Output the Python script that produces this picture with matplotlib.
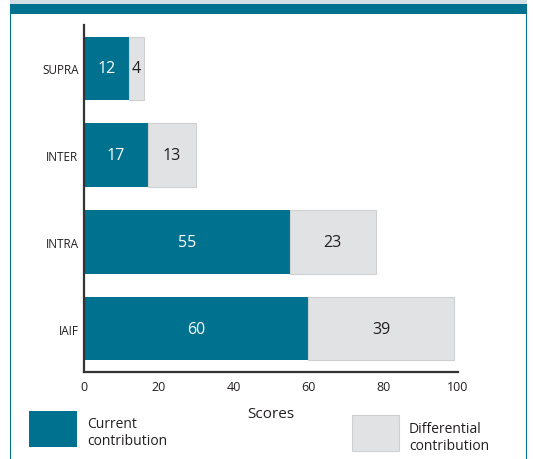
import matplotlib
matplotlib.use("Agg")
import matplotlib.pyplot as plt
from matplotlib.patches import Rectangle

# data
categories = ["SUPRA", "INTER", "INTRA", "IAIF"]
current = [12, 17, 55, 60]
differential = [4, 13, 23, 39]
x_ticks = [0, 20, 40, 60, 80, 100]

teal = "#00718f"
grey = "#e1e2e4"
W, H = 533, 460

plt.rcParams["font.family"] = ["Open Sans", "DejaVu Sans"]

fig = plt.figure(figsize=(W / 100, H / 100), dpi=100)


def px_rect(x0, y0, x1, y1, **kw):
    # rectangle given in pixel coords (origin top-left)
    fig.patches.append(Rectangle((x0 / W, 1 - y1 / H), (x1 - x0) / W, (y1 - y0) / H,
                                 transform=fig.transFigure, figure=fig, **kw))


# header band and frame
px_rect(10, 0, 527, 5, facecolor="#d2dfe4", edgecolor="none")
px_rect(10, 5, 527, 15, facecolor=teal, edgecolor="none")
px_rect(10, 15, 11, 460, facecolor=teal, edgecolor="none")
px_rect(526, 15, 527, 460, facecolor=teal, edgecolor="none")

ax = fig.add_axes([84 / W, 1 - 373 / H, 374 / W, 347 / H])

pos = range(len(categories))
ax.barh(pos, current, height=0.73, color=teal, edgecolor="none")
ax.barh(pos, differential, left=current, height=0.73, color=grey,
        edgecolor="#cfd0d2", linewidth=0.8)

for i, (c, d) in enumerate(zip(current, differential)):
    ax.text(c / 2, i, str(c), ha="center", va="center", color="white", fontsize=11.5)
    ax.text(c + d / 2, i, str(d), ha="center", va="center", color="#231f20", fontsize=11.5)

ax.set_ylim(3.5, -0.5)
ax.set_xlim(0, 100)
ax.set_yticks(list(pos))
ax.set_yticklabels(categories)
ax.set_xticks(x_ticks)
ax.tick_params(axis="both", length=0, colors="#231f20")
ax.tick_params(axis="y", pad=4, labelsize=8.5)
ax.tick_params(axis="x", pad=6, labelsize=9)
ax.set_xlabel("Scores", fontsize=11, color="#231f20", labelpad=9)

for side in ["top", "right"]:
    ax.spines[side].set_visible(False)
for side in ["left", "bottom"]:
    ax.spines[side].set_color("#333333")
    ax.spines[side].set_linewidth(1.6)

# legend boxes
px_rect(29, 412, 77, 448, facecolor=teal, edgecolor="none")
fig.text(87 / W, 1 - 433 / H, "Current\ncontribution", fontsize=10, color="#231f20",
         va="center", ha="left", linespacing=1.2)
px_rect(352, 416, 399, 452, facecolor=grey, edgecolor="#cfd0d2", linewidth=0.8)
fig.text(409 / W, 1 - 438 / H, "Differential\ncontribution", fontsize=10, color="#231f20",
         va="center", ha="left", linespacing=1.2)

fig.savefig("out.png", dpi=100)
